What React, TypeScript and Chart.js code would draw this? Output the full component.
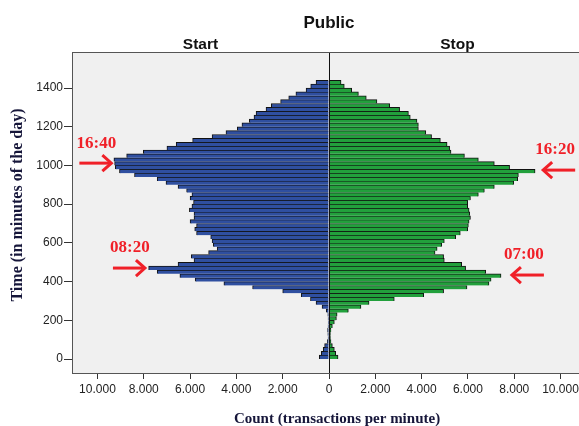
import React, { useEffect, useRef } from "react";
import { Chart, registerables } from "chart.js";

Chart.register(...registerables);

// Bin centers (minutes of the day, 20-minute bins)
const minutes = [
  10, 30, 50, 70, 90, 110, 130, 150, 170, 190, 210, 230, 250, 270, 290, 310, 330, 350,
  370, 390, 410, 430, 450, 470, 490, 510, 530, 550, 570, 590, 610, 630, 650, 670, 690, 710,
  730, 750, 770, 790, 810, 830, 850, 870, 890, 910, 930, 950, 970, 990, 1010, 1030, 1050, 1070,
  1090, 1110, 1130, 1150, 1170, 1190, 1210, 1230, 1250, 1270, 1290, 1310, 1330, 1350, 1370, 1390,
  1410, 1430,
];

// Start counts (left, blue)
const startCounts = [
  420, 330, 250, 190, 70, 40, 50, 60, 40, 35,
  40, 50, 120, 300, 560, 800, 1200, 2000, 3300, 4540,
  5780, 6440, 7420, 7790, 6520, 5830, 5950, 5200, 4830, 5000,
  5050, 5110, 5720, 5800, 5720, 6000, 5830, 5830, 6030, 5920,
  5850, 6000, 5920, 6150, 6520, 7040, 7420, 8400, 9050, 9230,
  9260, 9290, 8740, 8020, 7000, 6600, 5890, 5050, 4450, 3960,
  3760, 3440, 3240, 3150, 2720, 2490, 2090, 1740, 1430, 990,
  790, 560,
];

// Stop counts (right, green)
const stopCounts = [
  390, 290, 230, 145, 85, 60, 60, 85, 145, 230,
  320, 350, 835, 1380, 1730, 2820, 4090, 4950, 5960, 6910,
  7000, 7430, 6770, 5900, 5730, 4980, 4950, 4580, 4670, 4870,
  4980, 5470, 5670, 5990, 6020, 6050, 6110, 6080, 6050, 5990,
  5990, 6110, 6450, 6710, 7140, 7980, 8150, 8180, 8900, 7800,
  7140, 6450, 5850, 5270, 5210, 5100, 4810, 4430, 4180, 3860,
  3860, 3800, 3510, 3430, 3050, 2620, 2070, 1610, 1270, 980,
  660, 520,
];

// Axis ticks
const xTickValues = [-10000, -8000, -6000, -4000, -2000, 0, 2000, 4000, 6000, 8000, 10000];
const yTickValues = [0, 200, 400, 600, 800, 1000, 1200, 1400];

// Peak annotations (arrow tip at count / minute)
const annotationLabels = ["16:40", "08:20", "16:20", "07:00"];
const annotationMinutes = [1012, 470, 976, 434];
const annotationCounts = [-9400, -7950, 9250, 7900];

const titleText = "Public";
const sideLabels = ["Start", "Stop"];
const yTitle = "Time (in minutes of the day)";
const xTitle = "Count (transactions per minute)";

const BLUE = "#2f4fa0";
const GREEN = "#22a03c";
const RED = "#f02028";
const NAVY = "#16163a";

function fmtCount(v: number): string {
  const a = Math.abs(Math.round(v));
  return String(a).replace(/\B(?=(\d{3})+(?!\d))/g, ".");
}

const decorPlugin = {
  id: "decor",
  beforeDraw(chart: any) {
    const { ctx, chartArea: a } = chart;
    ctx.save();
    ctx.fillStyle = "#ffffff";
    ctx.fillRect(0, 0, chart.width, chart.height);
    ctx.fillStyle = "#f0f0f0";
    ctx.fillRect(a.left, a.top, a.right - a.left, a.bottom - a.top);
    ctx.restore();
  },
  afterDatasetsDraw(chart: any) {
    const { ctx, chartArea: a, scales } = chart;
    const x0 = Math.round(scales.x.getPixelForValue(0)) + 0.5;
    ctx.save();
    ctx.strokeStyle = "#111";
    ctx.lineWidth = 1;
    ctx.beginPath();
    ctx.moveTo(x0, a.top);
    ctx.lineTo(x0, a.bottom);
    ctx.stroke();
    ctx.restore();
  },
  afterDraw(chart: any) {
    const { ctx, chartArea: a, scales } = chart;
    const x0 = scales.x.getPixelForValue(0);
    ctx.save();
    // frame
    ctx.strokeStyle = "#555";
    ctx.lineWidth = 1;
    ctx.strokeRect(Math.round(a.left) + 0.5, Math.round(a.top) + 0.5, Math.round(a.right - a.left), Math.round(a.bottom - a.top));

    // titles
    ctx.fillStyle = "#111";
    ctx.textAlign = "center";
    ctx.textBaseline = "alphabetic";
    ctx.font = "bold 17px 'Liberation Sans', Arial, sans-serif";
    ctx.fillText(titleText, x0, 28);
    ctx.font = "bold 15.5px 'Liberation Sans', Arial, sans-serif";
    ctx.fillText(sideLabels[0], (a.left + x0) / 2, 49);
    ctx.fillText(sideLabels[1], (x0 + a.right) / 2, 49);

    // axis titles
    ctx.fillStyle = NAVY;
    ctx.font = "bold 15px 'Liberation Serif', 'Times New Roman', serif";
    ctx.fillText(xTitle, 337, 423);
    ctx.save();
    ctx.translate(22, 205);
    ctx.rotate(-Math.PI / 2);
    ctx.font = "bold 16px 'Liberation Serif', 'Times New Roman', serif";
    ctx.fillText(yTitle, 0, 0);
    ctx.restore();

    // annotations
    ctx.strokeStyle = RED;
    ctx.fillStyle = RED;
    ctx.lineWidth = 3;
    ctx.lineCap = "butt";
    ctx.font = "bold 17px 'Liberation Serif', 'Times New Roman', serif";
    ctx.textBaseline = "middle";
    for (let i = 0; i < annotationLabels.length; i++) {
      const tx = scales.x.getPixelForValue(annotationCounts[i]);
      const ty = scales.y.getPixelForValue(annotationMinutes[i]);
      const dir = annotationCounts[i] < 0 ? 1 : -1; // 1: arrow points right
      const tail = tx - dir * 32;
      ctx.beginPath();
      ctx.moveTo(tail, ty);
      ctx.lineTo(tx - dir * 1.5, ty);
      ctx.stroke();
      ctx.beginPath();
      ctx.moveTo(tx - dir * 9, ty - 8);
      ctx.lineTo(tx, ty);
      ctx.lineTo(tx - dir * 9, ty + 8);
      ctx.stroke();
      const lx = dir === 1 ? tx - 15 : tx + 12;
      ctx.fillText(annotationLabels[i], lx, ty - 20);
    }
    ctx.restore();
  },
};

export default function App() {
  const ref = useRef<HTMLCanvasElement | null>(null);
  useEffect(() => {
    if (!ref.current) return;
    const common = {
      borderColor: "#111",
      borderSkipped: "start",
      grouped: false,
      barPercentage: 1,
      categoryPercentage: 1,
    };
    const chart = new Chart(ref.current, {
      type: "bar",
      data: {
        datasets: [
          {
            label: sideLabels[0],
            data: minutes.map((m, i) => ({ x: -startCounts[i], y: m })),
            backgroundColor: BLUE,
            borderWidth: { top: 1, bottom: 0, left: 1, right: 1 },
            ...common,
          } as any,
          {
            label: sideLabels[1],
            data: minutes.map((m, i) => ({ x: stopCounts[i], y: m })),
            backgroundColor: GREEN,
            borderWidth: { top: 1, bottom: 0, left: 1, right: 1 },
            ...common,
          } as any,
        ],
      },
      options: {
        indexAxis: "y",
        responsive: false,
        maintainAspectRatio: false,
        animation: false,
        devicePixelRatio: 1,
        layout: { padding: { top: 52, right: 14, left: 0, bottom: 0 } },
        plugins: {
          legend: { display: false },
          tooltip: { enabled: false },
          title: { display: false },
        },
        scales: {
          x: {
            type: "linear",
            min: -11100,
            max: 11100,
            bounds: "data",
            offset: false,
            border: { display: false },
            grid: { drawOnChartArea: false, offset: false, tickLength: 6, tickColor: "#333" },
            ticks: {
              maxRotation: 0,
              autoSkip: false,
              padding: 3,
              color: "#222",
              font: { family: "'Liberation Sans', Arial, sans-serif", size: 12 },
              callback: (v: any) => fmtCount(Number(v)),
            },
            afterBuildTicks: (s: any) => {
              s.ticks = xTickValues.map((v) => ({ value: v }));
            },
            afterFit: (s: any) => {
              s.height = 53;
            },
          },
          y: {
            type: "linear",
            min: -72,
            max: 1586,
            bounds: "data",
            offset: false,
            border: { display: false },
            grid: { drawOnChartArea: false, offset: false, tickLength: 8, tickColor: "#333" },
            ticks: {
              autoSkip: false,
              padding: 1,
              color: "#222",
              font: { family: "'Liberation Sans', Arial, sans-serif", size: 12 },
              callback: (v: any) => String(v),
            },
            afterBuildTicks: (s: any) => {
              s.ticks = yTickValues.map((v) => ({ value: v }));
            },
            afterFit: (s: any) => {
              s.width = 72;
            },
          },
        },
      } as any,
      plugins: [decorPlugin],
    });
    return () => chart.destroy();
  }, []);

  return (
    <div
      style={{
        position: "fixed",
        left: 0,
        top: 0,
        width: 579,
        height: 426,
        overflow: "hidden",
        background: "#fff",
      }}
    >
      <canvas ref={ref} width={600} height={426} style={{ display: "block", width: 600, height: 426 }} />
    </div>
  );
}
